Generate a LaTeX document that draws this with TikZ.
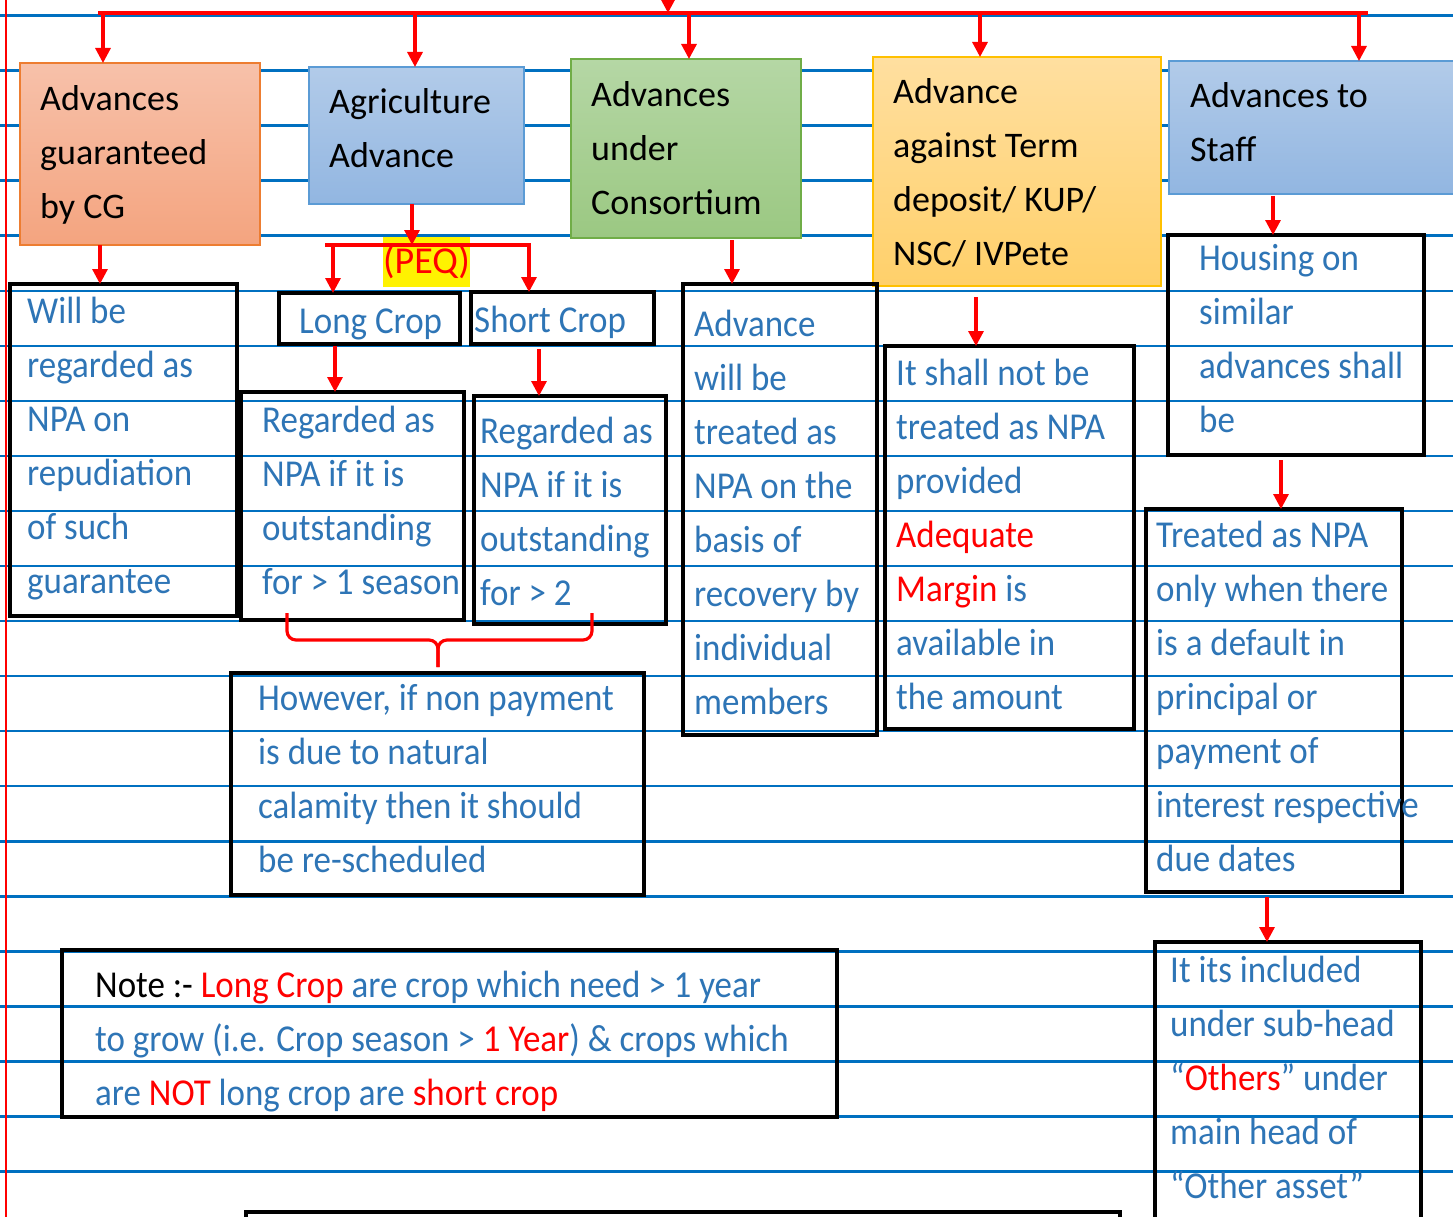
\documentclass[tikz,border=0pt]{standalone}
\usepackage{fontspec}
\setmainfont{Carlito}
\newfontfamily\bodyfont[FakeStretch=0.92]{Carlito}
\usetikzlibrary{arrows.meta}
\definecolor{lineblue}{HTML}{0070C0}
\definecolor{txtblue}{HTML}{2E75B6}
\definecolor{rd}{HTML}{FF0000}
\definecolor{salmonT}{HTML}{F7C1AA}
\definecolor{salmonB}{HTML}{F4A47F}
\definecolor{salmonE}{HTML}{ED7D31}
\definecolor{skyT}{HTML}{B2CBE9}
\definecolor{skyB}{HTML}{92B6E1}
\definecolor{skyE}{HTML}{5B9BD5}
\definecolor{leafT}{HTML}{B5D7A5}
\definecolor{leafB}{HTML}{9BC882}
\definecolor{leafE}{HTML}{70AD47}
\definecolor{goldT}{HTML}{FFDFA0}
\definecolor{goldB}{HTML}{FFD06A}
\definecolor{goldE}{HTML}{FFC000}
\newcommand\firstline{\rule{0pt}{30pt}}
\tikzset{
  ruling/.style={draw=lineblue, line width=2.5pt},
  margin/.style={draw=rd, line width=1.2pt},
  wire/.style={draw=rd, line width=3.2pt},
  arr/.style={draw=rd, line width=3.2pt, -{Triangle[width=15pt,length=15pt]}},
  headbox/.style={rectangle, anchor=north west, inner sep=0pt, outer sep=0pt, line width=1.5pt},
  textbox/.style={rectangle, draw=black, line width=3.5pt, anchor=north west, inner sep=0pt, outer sep=0pt},
  headtxt/.style={anchor=north west, inner sep=0pt, align=left, font=\fontsize{36}{54}\selectfont, text=black},
  bodytxt/.style={anchor=north west, inner sep=0pt, align=left, font=\bodyfont\fontsize{38}{54}\selectfont, text=txtblue},
}
\begin{document}
\begin{tikzpicture}[x=1pt, y=-1pt]
\useasboundingbox (0,0) rectangle (1453,1217);
\fill[white] (0,0) rectangle (1453,1217);

% ruled notebook paper
\foreach \k in {0,...,21}
  \draw[ruling] (0,{15.5+55.05*\k}) -- (1453,{15.5+55.05*\k});
\draw[margin] (6,0) -- (6,1217);

% category boxes
\node[headbox, top color=salmonT, bottom color=salmonB, draw=salmonE, minimum width=240pt, minimum height=182pt] (cg) at (20,63) {};
\node[headbox, top color=skyT, bottom color=skyB, draw=skyE, minimum width=215pt, minimum height=137pt] (ag) at (309,67) {};
\node[headbox, top color=leafT, bottom color=leafB, draw=leafE, minimum width=230pt, minimum height=179pt] (con) at (571,59) {};
\node[headbox, top color=goldT, bottom color=goldB, draw=goldE, minimum width=288pt, minimum height=229pt] (term) at (873,57) {};
\node[headbox, top color=skyT, bottom color=skyB, draw=skyE, minimum width=300pt, minimum height=133pt] (staff) at (1169,61) {};

\node[headtxt] (cgt) at (40,80) {\firstline Advances\\guaranteed\\by CG};
\node[headtxt] (agt) at (329,83) {\firstline Agriculture\\Advance};
\node[headtxt] (cont) at (591,76) {\firstline Advances\\under\\Consortium};
\node[headtxt] (termt) at (893,73) {\firstline Advance\\against Term\\deposit/ KUP/\\NSC/ IVPete};
\node[headtxt] (stafft) at (1190,77) {\firstline Advances to\\Staff};

% outlined text boxes
\node[textbox, minimum width=227pt, minimum height=332pt] (wb) at (10,284) {};
\node[textbox, minimum width=181pt, minimum height=51pt] (lc) at (279,293) {};
\node[textbox, minimum width=183pt, minimum height=52pt] (sc) at (471,292) {};
\node[textbox, minimum width=223pt, minimum height=228pt] (lr) at (241,392) {};
\node[textbox, minimum width=192pt, minimum height=228pt] (sr) at (474,396) {};
\node[textbox, minimum width=413pt, minimum height=222pt] (hw) at (231,673) {};
\node[textbox, minimum width=194pt, minimum height=451pt] (ac) at (683,284) {};
\node[textbox, minimum width=249pt, minimum height=383pt] (tn) at (885,346) {};
\node[textbox, minimum width=256pt, minimum height=220pt] (hs) at (1168,235) {};
\node[textbox, minimum width=256pt, minimum height=383pt] (tr) at (1146,509) {};
\node[textbox, minimum width=266pt, minimum height=300pt] (inc) at (1155,942) {};
\node[textbox, minimum width=775pt, minimum height=167pt] (note) at (62,950) {};
\node[textbox, minimum width=874pt, minimum height=60pt] (last) at (246,1212) {};

\node[bodytxt] (wbt) at (27,293) {\firstline Will be\\regarded as\\NPA on\\repudiation\\of such\\guarantee};
\node[bodytxt] (lct) at (299,303) {\firstline Long Crop};
\node[bodytxt] (sct) at (474,302) {\firstline Short Crop};
\node[bodytxt] (lrt) at (262,402) {\firstline Regarded as\\NPA if it is\\outstanding\\for > 1 season};
\node[bodytxt] (srt) at (480,413) {\firstline Regarded as\\NPA if it is\\outstanding\\for > 2};
\node[bodytxt] (hwt) at (258,680) {\firstline However, if non payment\\is due to natural\\calamity then it should\\be re-scheduled};
\node[bodytxt] (act) at (694,306) {\firstline Advance\\will be\\treated as\\NPA on the\\basis of\\recovery by\\individual\\members};
\node[bodytxt] (tnt) at (896,355) {\firstline It shall not be\\treated as NPA\\provided\\\textcolor{rd}{Adequate}\\\textcolor{rd}{Margin} is\\available in\\the amount};
\node[bodytxt] (hst) at (1199,240) {\firstline Housing on\\similar\\advances shall\\be};
\node[bodytxt] (trt) at (1156,517) {\firstline Treated as NPA\\only when there\\is a default in\\principal or\\payment of\\interest respective\\due dates};
\node[bodytxt] (inct) at (1170,952) {\firstline It its included\\under sub-head\\“\textcolor{rd}{Others}” under\\main head of\\“Other asset”};
\node[bodytxt] (notet) at (95,967) {\firstline \textcolor{black}{Note :-} \textcolor{rd}{Long Crop} are crop which need > 1 year\\to grow (i.e. Crop season > \textcolor{rd}{1 Year}) \& crops which\\are \textcolor{rd}{NOT} long crop are \textcolor{rd}{short crop}};

% top distribution bus
\coordinate (root) at (668,-12);
\coordinate (busL) at (98,13);
\coordinate (busR) at (1368,13);
\draw[wire] (busL) -- (busR);
\draw[arr] (root) -- (root |- busL);
\coordinate (b1) at (103,13);
\coordinate (b2) at (415,13);
\coordinate (b3) at (689,13);
\coordinate (b4) at (980,13);
\coordinate (b5) at (1359,13);
\draw[arr] (b1) -- (b1 |- cg.north);
\draw[arr] (b2) -- (b2 |- ag.north);
\draw[arr] (b3) -- (b3 |- con.north);
\draw[arr] (b4) -- (b4 |- term.north);
\draw[arr] (b5) -- (b5 |- staff.north);

% guaranteed advances
\coordinate (x1) at (100,0);
\draw[arr] (cg.south -| x1) -- (wb.north -| x1);

% agriculture split into long and short crop
\node[fill=yellow, inner sep=0pt, minimum width=86pt, minimum height=50pt, anchor=north west, font=\fontsize{38}{40}\selectfont, text=rd] (peq) at (383,237) {(PEQ)};
\coordinate (gx) at (412,0);
\coordinate (sL) at (325,245);
\coordinate (sR) at (531,245);
\draw[arr] (ag.south -| gx) -- (sL -| gx);
\draw[wire] (sL) -- (sR);
\coordinate (lx) at (333,0);
\coordinate (rx) at (529,0);
\draw[arr] (sL -| lx) -- (lc.north -| lx);
\draw[arr] (sL -| rx) -- (sc.north -| rx);
\coordinate (lx2) at (335,0);
\coordinate (rx2) at (539,0);
\draw[arr] ([yshift=-2pt]lc.south -| lx2) -- (lr.north -| lx2);
\draw[arr] ([yshift=-5pt]sc.south -| rx2) -- (sr.north -| rx2);

% brace joining both crop rules
\coordinate (bl) at (287,613);
\coordinate (br) at (592,613);
\coordinate (bm) at (438,640);
\coordinate (btip) at (438,667);
\draw[wire, rounded corners=9pt] (bl) -- (bl |- bm) -- (bm) -- (btip);
\draw[wire, rounded corners=9pt] (br) -- (br |- bm) -- (bm) -- (btip);

% consortium, term deposit and staff chains
\coordinate (x3) at (732,0);
\draw[arr] ([yshift=-2pt]con.south -| x3) -- (ac.north -| x3);
\coordinate (x4) at (976,0);
\draw[arr] ([yshift=-11pt]term.south -| x4) -- (tn.north -| x4);
\coordinate (x5) at (1273,0);
\draw[arr] ([yshift=-2pt]staff.south -| x5) -- (hs.north -| x5);
\coordinate (x6) at (1281,0);
\draw[arr] ([yshift=-5pt]hs.south -| x6) -- (tr.north -| x6);
\coordinate (x7) at (1267,0);
\draw[arr] ([yshift=-5pt]tr.south -| x7) -- (inc.north -| x7);
\end{tikzpicture}
\end{document}
